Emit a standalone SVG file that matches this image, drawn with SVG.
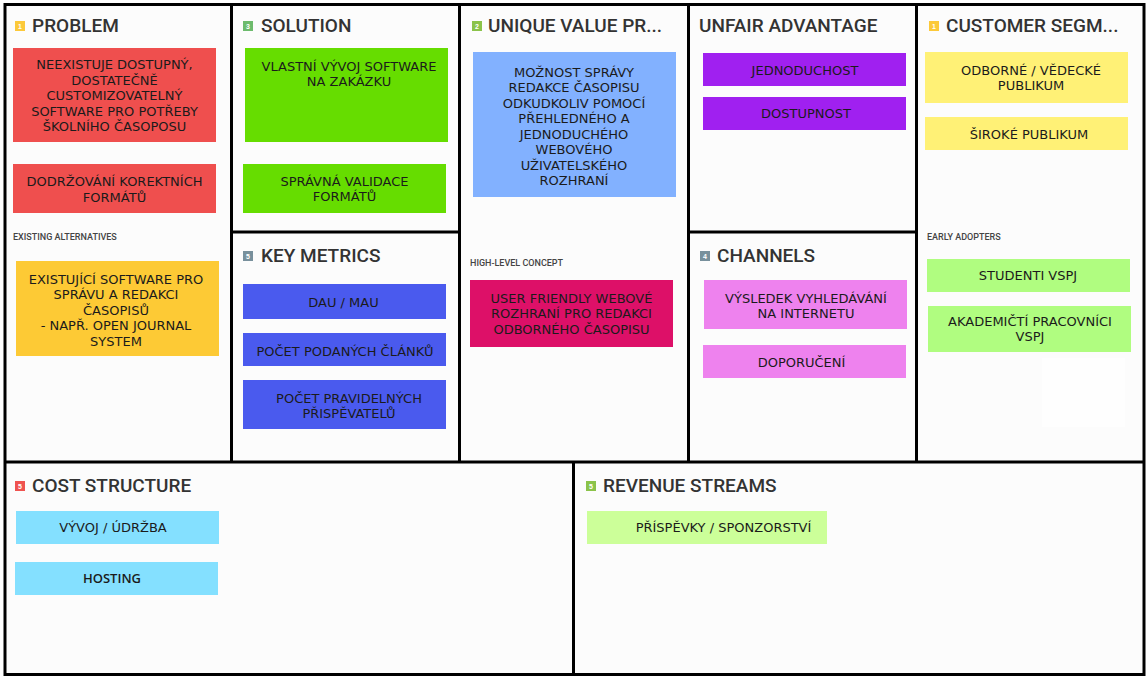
<svg xmlns="http://www.w3.org/2000/svg" width="1148" height="679" viewBox="0 0 1148 679">
<style>
.h{font-family:Roboto,"Liberation Sans",sans-serif;font-weight:500;font-size:19px;fill:#333}
.sub{font-family:Roboto,"Liberation Sans",sans-serif;font-weight:500;font-size:9px;fill:#444}
.t{font-family:"DejaVu Sans","Liberation Sans",sans-serif;font-size:13px;fill:#1b1b1b;text-anchor:middle}
.b{font-family:"Liberation Sans",sans-serif;font-size:7px;font-weight:700;fill:#fff;text-anchor:middle}
.ln{stroke:#000;stroke-width:3;fill:none}
</style>
<rect width="1148" height="679" fill="#fff"/>
<rect x="5" y="5" width="1139" height="670" fill="#fcfcfc"/>
<rect x="1042" y="358" width="83" height="69" fill="#fefefe"/>
<g id="grid">
<rect class="ln" x="5" y="4.5" width="1139" height="670"/>
<line class="ln" x1="231.5" y1="4.5" x2="231.5" y2="462"/>
<line class="ln" x1="459.5" y1="4.5" x2="459.5" y2="462"/>
<line class="ln" x1="688.5" y1="4.5" x2="688.5" y2="462"/>
<line class="ln" x1="916.5" y1="4.5" x2="916.5" y2="462"/>
<line class="ln" x1="231.5" y1="232" x2="459.5" y2="232"/>
<line class="ln" x1="688.5" y1="232" x2="916.5" y2="232"/>
<line class="ln" x1="5" y1="462" x2="1144" y2="462"/>
<line class="ln" x1="573.5" y1="462" x2="573.5" y2="675"/>
</g>
<g id="problem">
<rect x="15" y="21" width="10" height="10" fill="#fcc93a"/><text class="b" x="20" y="29">1</text>
<text class="h" x="32" y="32">PROBLEM</text>
<rect x="13" y="48" width="203" height="94" fill="#ef4f4e"/>
<text class="t"><tspan x="114.5" y="69">NEEXISTUJE DOSTUPNÝ,</tspan><tspan x="114.5" y="84.5">DOSTATEČNĚ</tspan><tspan x="114.5" y="100">CUSTOMIZOVATELNÝ</tspan><tspan x="114.5" y="115.5">SOFTWARE PRO POTŘEBY</tspan><tspan x="114.5" y="131">ŠKOLNÍHO ČASOPOSU</tspan></text>
<rect x="13" y="164" width="203" height="49" fill="#ef4f4e"/>
<text class="t"><tspan x="114.5" y="186">DODRŽOVÁNÍ KOREKTNÍCH</tspan><tspan x="114.5" y="201.5">FORMÁTŮ</tspan></text>
<text class="sub" x="13" y="239.5">EXISTING ALTERNATIVES</text>
<rect x="16" y="261" width="203" height="95" fill="#fdca35"/>
<text class="t"><tspan x="116" y="283.5">EXISTUJÍCÍ SOFTWARE PRO</tspan><tspan x="116" y="299">SPRÁVU A REDAKCI</tspan><tspan x="116" y="314.5">ČASOPISŮ</tspan><tspan x="116" y="330">- NAPŘ. OPEN JOURNAL</tspan><tspan x="116" y="345.5">SYSTEM</tspan></text>
</g>
<g id="solution">
<rect x="243" y="21" width="10" height="10" fill="#6dbb6d"/><text class="b" x="248" y="29">3</text>
<text class="h" x="261" y="32">SOLUTION</text>
<rect x="245" y="48" width="203" height="94" fill="#66dd00"/>
<text class="t"><tspan x="349" y="70.5">VLASTNÍ VÝVOJ SOFTWARE</tspan><tspan x="349" y="86">NA ZAKÁZKU</tspan></text>
<rect x="243" y="164" width="203" height="49" fill="#66dd00"/>
<text class="t"><tspan x="344.5" y="185.5">SPRÁVNÁ VALIDACE</tspan><tspan x="344.5" y="201">FORMÁTŮ</tspan></text>
</g>
<g id="key-metrics">
<rect x="243" y="251" width="10" height="10" fill="#78909c"/><text class="b" x="248" y="259">5</text>
<text class="h" x="261" y="262">KEY METRICS</text>
<rect x="243" y="284" width="203" height="35" fill="#4a5aee"/>
<text class="t" x="343.5" y="306.5">DAU / MAU</text>
<rect x="243" y="333" width="203" height="33" fill="#4a5aee"/>
<text class="t" x="345" y="355.5">POČET PODANÝCH ČLÁNKŮ</text>
<rect x="243" y="380" width="203" height="49" fill="#4a5aee"/>
<text class="t"><tspan x="349" y="402.5">POČET PRAVIDELNÝCH</tspan><tspan x="349" y="418">PŘISPĚVATELŮ</tspan></text>
</g>
<g id="unique-value">
<rect x="472" y="21" width="10" height="10" fill="#8bc34a"/><text class="b" x="477" y="29">2</text>
<text class="h" x="488" y="32">UNIQUE VALUE PR...</text>
<rect x="473" y="52" width="203" height="145" fill="#82b1ff"/>
<text class="t"><tspan x="574" y="76.5">MOŽNOST SPRÁVY</tspan><tspan x="574" y="92">REDAKCE ČASOPISU</tspan><tspan x="574" y="107.5">ODKUDKOLIV POMOCÍ</tspan><tspan x="574" y="123">PŘEHLEDNÉHO A</tspan><tspan x="574" y="138.5">JEDNODUCHÉHO</tspan><tspan x="574" y="154">WEBOVÉHO</tspan><tspan x="574" y="169.5">UŽIVATELSKÉHO</tspan><tspan x="574" y="185">ROZHRANÍ</tspan></text>
<text class="sub" x="470" y="265.5">HIGH-LEVEL CONCEPT</text>
<rect x="470" y="280" width="203" height="67" fill="#dd1068"/>
<text class="t"><tspan x="571.5" y="302.5">USER FRIENDLY WEBOVÉ</tspan><tspan x="571.5" y="318">ROZHRANÍ PRO REDAKCI</tspan><tspan x="571.5" y="333.5">ODBORNÉHO ČASOPISU</tspan></text>
</g>
<g id="unfair-advantage">
<text class="h" x="699" y="32">UNFAIR ADVANTAGE</text>
<rect x="703" y="53" width="203" height="33" fill="#a020f0"/>
<text class="t" x="805" y="74.5">JEDNODUCHOST</text>
<rect x="703" y="97" width="203" height="33" fill="#a020f0"/>
<text class="t" x="806" y="117.5">DOSTUPNOST</text>
</g>
<g id="channels">
<rect x="700" y="251" width="10" height="10" fill="#78909c"/><text class="b" x="705" y="259">4</text>
<text class="h" x="717" y="262">CHANNELS</text>
<rect x="704" y="280" width="203" height="49" fill="#ee82ee"/>
<text class="t"><tspan x="806" y="302.5">VÝSLEDEK VYHLEDÁVÁNÍ</tspan><tspan x="806" y="318">NA INTERNETU</tspan></text>
<rect x="703" y="345" width="203" height="33" fill="#ee82ee"/>
<text class="t" x="801.5" y="366.5">DOPORUČENÍ</text>
</g>
<g id="customer-segments">
<rect x="929" y="21" width="10" height="10" fill="#fcc93a"/><text class="b" x="934" y="29">1</text>
<text class="h" x="946" y="32">CUSTOMER SEGM...</text>
<rect x="925" y="52" width="203" height="51" fill="#fff176"/>
<text class="t"><tspan x="1031" y="74.5">ODBORNÉ / VĚDECKÉ</tspan><tspan x="1031" y="90">PUBLIKUM</tspan></text>
<rect x="925" y="117" width="203" height="33" fill="#fff176"/>
<text class="t" x="1029" y="138.5">ŠIROKÉ PUBLIKUM</text>
<text class="sub" x="927" y="239.5">EARLY ADOPTERS</text>
<rect x="927" y="259" width="203" height="33" fill="#b0fd80"/>
<text class="t" x="1028" y="279.5">STUDENTI VSPJ</text>
<rect x="928" y="306" width="203" height="46" fill="#b0fd80"/>
<text class="t"><tspan x="1030" y="325.5">AKADEMIČTÍ PRACOVNÍCI</tspan><tspan x="1030" y="341">VSPJ</tspan></text>
</g>
<g id="cost-structure">
<rect x="15" y="481" width="10" height="10" fill="#ef5350"/><text class="b" x="20" y="489">5</text>
<text class="h" x="32" y="492">COST STRUCTURE</text>
<rect x="16" y="511" width="203" height="33" fill="#84e0ff"/>
<text class="t" x="113" y="531.5">VÝVOJ / ÚDRŽBA</text>
<rect x="15" y="562" width="203" height="33" fill="#84e0ff"/>
<text class="t" x="112" y="582.5" style="font-family:'Open Sans','DejaVu Sans',sans-serif;font-weight:600">HOSTING</text>
</g>
<g id="revenue-streams">
<rect x="586" y="481" width="10" height="10" fill="#8bc34a"/><text class="b" x="591" y="489">5</text>
<text class="h" x="603" y="492">REVENUE STREAMS</text>
<rect x="587" y="511" width="240" height="33" fill="#ccff99"/>
<text class="t" x="723.5" y="531.5">PŘÍSPĚVKY / SPONZORSTVÍ</text>
</g>
</svg>
